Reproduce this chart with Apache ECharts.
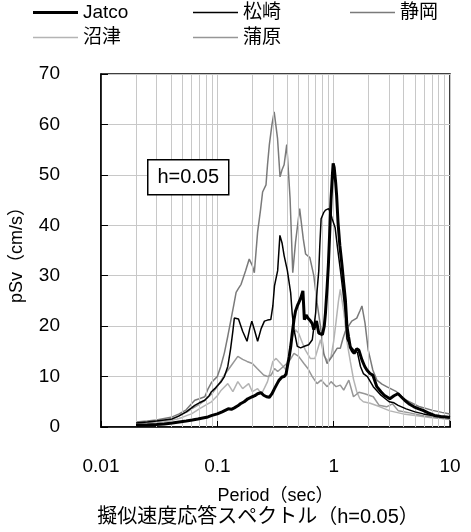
<!DOCTYPE html>
<html>
<head>
<meta charset="utf-8">
<script src="https://cdn.jsdelivr.net/npm/echarts@6/dist/echarts.min.js"></script>
<style>
  html, body { margin: 0; padding: 0; background: #fff; }
  #chart { width: 471px; height: 532px; }
</style>
</head>
<body>
<div id="chart"></div>
<script>
// period (sec), pSv (cm/s) pairs
var jatco = [[0.02,0.3],[0.025,0.4],[0.03,0.5],[0.035,0.6],[0.041,0.8],[0.047,1.0],[0.054,1.2],[0.061,1.4],[0.068,1.6],[0.075,1.8],[0.083,2.0],[0.09,2.3],[0.1,2.6],[0.11,3.0],[0.124,3.6],[0.132,3.5],[0.14,3.8],[0.15,4.2],[0.158,4.6],[0.17,5.0],[0.183,5.6],[0.2,6.0],[0.21,6.2],[0.222,6.6],[0.237,6.8],[0.25,6.3],[0.265,6.0],[0.28,5.9],[0.295,6.6],[0.31,7.6],[0.325,8.5],[0.34,9.3],[0.36,9.9],[0.375,10.0],[0.39,10.5],[0.4,12.0],[0.415,14.0],[0.428,16.0],[0.44,18.5],[0.456,21.3],[0.47,23.0],[0.487,24.0],[0.5,24.6],[0.52,25.5],[0.544,27.0],[0.56,21.3],[0.58,22.2],[0.6,21.6],[0.633,21.0],[0.655,20.5],[0.675,19.3],[0.7,20.5],[0.712,21.0],[0.745,18.6],[0.8,18.3],[0.83,20.0],[0.85,22.6],[0.88,28.0],[0.9,32.0],[0.93,40.0],[0.95,45.3],[0.975,50.0],[0.99,52.3],[1.01,51.5],[1.04,48.5],[1.06,46.0],[1.09,40.6],[1.13,36.0],[1.18,32.0],[1.22,28.5],[1.26,25.3],[1.3,20.0],[1.34,18.0],[1.39,15.8],[1.45,15.0],[1.5,14.6],[1.58,15.5],[1.65,15.2],[1.75,13.3],[1.85,12.0],[1.93,11.3],[2.05,10.6],[2.17,10.3],[2.35,8.0],[2.55,7.0],[2.72,6.3],[3.04,5.6],[3.3,6.2],[3.58,6.6],[3.8,6.0],[4.08,5.3],[4.5,4.5],[4.9,4.0],[5.4,3.6],[5.86,3.3],[6.5,2.8],[7.35,2.3],[8.3,2.1],[9.3,2.0],[10,1.9]];

var matsuzaki = [[0.02,0.8],[0.025,1.0],[0.03,1.2],[0.035,1.4],[0.041,1.6],[0.047,2.2],[0.054,3.0],[0.06,3.8],[0.064,4.3],[0.07,4.8],[0.078,5.3],[0.085,6.2],[0.089,7.0],[0.095,7.6],[0.1,8.2],[0.108,9.0],[0.115,10.0],[0.123,12.0],[0.13,15.5],[0.136,19.0],[0.14,21.6],[0.152,21.4],[0.165,19.0],[0.18,17.0],[0.19,19.5],[0.198,21.0],[0.21,19.0],[0.222,17.0],[0.238,19.5],[0.254,21.0],[0.27,21.2],[0.288,21.3],[0.3,24.0],[0.31,28.0],[0.33,31.0],[0.345,38.0],[0.36,36.5],[0.375,34.0],[0.4,31.0],[0.427,26.6],[0.44,22.5],[0.456,19.3],[0.487,16.0],[0.52,15.7],[0.56,16.0],[0.61,16.3],[0.655,17.3],[0.7,22.6],[0.72,27.0],[0.745,31.0],[0.76,36.0],[0.78,41.3],[0.82,42.5],[0.85,43.0],[0.905,43.3],[0.94,42.5],[0.97,41.3],[1.03,39.5],[1.08,35.5],[1.14,31.3],[1.2,27.0],[1.26,22.6],[1.3,17.5],[1.39,16.0],[1.48,15.3],[1.6,14.8],[1.7,12.0],[1.8,10.6],[1.95,10.0],[2.19,8.0],[2.55,6.3],[3.0,5.0],[3.3,4.8],[3.58,4.3],[4.2,3.6],[5.0,3.0],[5.9,2.6],[7.0,2.3],[8.5,2.1],[10,2.0]];

var shizuoka = [[0.02,1.0],[0.025,1.2],[0.03,1.4],[0.035,1.7],[0.041,2.0],[0.047,2.6],[0.054,3.4],[0.06,4.6],[0.064,5.3],[0.07,5.6],[0.078,6.0],[0.083,7.5],[0.089,8.8],[0.095,9.5],[0.1,10.0],[0.107,12.0],[0.115,14.7],[0.123,18.0],[0.131,21.3],[0.138,24.0],[0.145,26.7],[0.152,27.5],[0.16,28.3],[0.175,31.0],[0.188,33.3],[0.2,32.0],[0.208,30.6],[0.222,38.7],[0.235,43.0],[0.245,46.6],[0.262,48.0],[0.27,52.0],[0.28,56.0],[0.295,60.0],[0.308,62.5],[0.329,57.3],[0.346,49.6],[0.36,51.0],[0.375,52.0],[0.395,56.0],[0.41,50.0],[0.422,45.3],[0.445,30.6],[0.47,36.6],[0.51,43.3],[0.548,37.3],[0.574,34.3],[0.624,33.6],[0.675,30.0],[0.72,24.6],[0.77,20.0],[0.822,14.6],[0.878,12.6],[0.97,14.0],[1.07,15.6],[1.14,15.6],[1.2,17.5],[1.26,19.0],[1.43,21.0],[1.58,21.6],[1.68,23.0],[1.75,24.0],[1.86,20.6],[1.98,15.3],[2.17,11.3],[2.35,9.3],[2.6,8.5],[2.85,8.0],[3.47,7.0],[4.2,5.3],[5.5,4.0],[7.1,3.3],[8.5,2.9],[10,2.6]];

var numazu = [[0.02,0.4],[0.025,0.6],[0.03,0.8],[0.035,1.0],[0.04,1.3],[0.045,1.6],[0.05,1.9],[0.055,2.3],[0.06,2.6],[0.07,3.6],[0.08,4.4],[0.089,5.0],[0.1,6.2],[0.108,7.3],[0.123,8.6],[0.136,7.0],[0.15,9.0],[0.165,7.6],[0.186,8.6],[0.2,7.0],[0.222,7.6],[0.24,6.6],[0.255,7.8],[0.27,9.0],[0.285,11.0],[0.3,13.0],[0.32,13.6],[0.35,12.6],[0.39,11.3],[0.43,17.3],[0.47,19.3],[0.5,18.6],[0.54,16.6],[0.57,15.3],[0.63,13.6],[0.69,13.6],[0.77,17.3],[0.83,14.0],[0.9,13.0],[0.95,14.0],[1.0,17.0],[1.05,21.0],[1.1,25.0],[1.14,27.3],[1.22,23.0],[1.3,17.0],[1.39,13.0],[1.48,9.5],[1.58,7.0],[1.68,5.6],[1.8,5.0],[2.06,4.7],[2.5,4.0],[3.04,3.2],[3.95,2.6],[5.0,2.3],[6.7,1.9],[8.5,1.7],[10,1.5]];

var kanbara = [[0.02,0.6],[0.025,0.8],[0.03,1.1],[0.035,1.3],[0.04,1.6],[0.045,2.0],[0.05,2.6],[0.055,3.0],[0.06,3.6],[0.07,4.5],[0.078,5.3],[0.089,6.5],[0.1,8.0],[0.115,10.3],[0.13,12.0],[0.15,14.0],[0.165,13.4],[0.18,13.0],[0.2,12.6],[0.22,11.6],[0.25,10.3],[0.27,10.0],[0.29,10.3],[0.31,11.6],[0.33,11.0],[0.37,12.0],[0.414,13.0],[0.456,14.6],[0.5,14.0],[0.555,12.6],[0.6,11.6],[0.655,10.0],[0.72,8.6],[0.78,9.3],[0.88,8.0],[0.95,9.0],[1.05,8.0],[1.14,8.3],[1.22,7.3],[1.35,9.3],[1.48,6.0],[1.65,6.9],[1.85,6.6],[2.19,6.0],[2.46,4.3],[2.85,4.0],[3.2,4.6],[3.6,3.2],[4.5,2.8],[6.0,2.2],[8.0,1.8],[10,1.6]];

var seriesNames = ['Jatco', '松崎', '静岡', '沼津', '蒲原'];
var xTickLabels = ['0.01', '0.1', '1', '10'];
// minor log grid lines (2..9 of each decade)
var minorGrid = [0.02,0.03,0.04,0.05,0.06,0.07,0.08,0.09,0.2,0.3,0.4,0.5,0.6,0.7,0.8,0.9,2,3,4,5,6,7,8,9];

var font = "'Liberation Sans', 'Noto Sans CJK JP', sans-serif";
var myChart = echarts.init(document.getElementById('chart'));

function line(name, data, color, width, z) {
    return {
        name: name,
        type: 'line',
        data: data,
        symbol: 'none',
        z: z,
        lineStyle: { color: color, width: width },
        itemStyle: { color: color }
    };
}

// one legend per item so that each sits where the reference puts it
function legendAt(name, left, top, thick) {
    return {
        data: [name],
        left: left,
        top: top,
        padding: 0,
        icon: 'rect',
        itemWidth: 45,
        itemHeight: thick,
        itemGap: 5,
        textStyle: { fontSize: 19, color: '#000', fontFamily: font }
    };
}

var option = {
    animation: false,
    backgroundColor: '#fff',
    textStyle: { fontFamily: font },
    grid: {
        left: 97,
        right: 21,
        top: 74,
        bottom: 105,
        show: true,
        borderColor: '#000',
        borderWidth: 1.5
    },
    legend: [
        legendAt('Jatco', 33, 3, 3),
        legendAt('松崎', 193, 3, 1.5),
        legendAt('静岡', 350, 3, 1.5),
        legendAt('沼津', 33, 28, 1.5),
        legendAt('蒲原', 193, 28, 1.5)
    ],
    xAxis: {
        type: 'log',
        logBase: 10,
        min: 0.01,
        max: 10,
        name: 'Period（sec）',
        nameLocation: 'middle',
        nameGap: 60,
        nameTextStyle: { fontSize: 18, color: '#000', fontFamily: font },
        axisLine: { lineStyle: { color: '#000', width: 1.5 } },
        axisTick: { inside: true, length: 6, lineStyle: { color: '#000' } },
        axisLabel: {
            margin: 30,
            fontSize: 19,
            color: '#000',
            formatter: function (v) {
                return xTickLabels[Math.round(Math.log10(v)) + 2];
            }
        },
        splitLine: { show: true, lineStyle: { color: '#c8c8c8', width: 1 } }
    },
    yAxis: {
        type: 'value',
        min: 0,
        max: 70,
        interval: 10,
        name: 'pSv（cm/s）',
        nameLocation: 'middle',
        nameGap: 75,
        nameTextStyle: { fontSize: 18, color: '#000', fontFamily: font },
        axisLine: { show: true, lineStyle: { color: '#000', width: 1.5 } },
        axisTick: { show: true, inside: true, length: 7, lineStyle: { color: '#000' } },
        axisLabel: { margin: 41, fontSize: 19, color: '#000' },
        splitLine: { show: true, lineStyle: { color: '#c8c8c8', width: 1 } }
    },
    graphic: [
        {
            type: 'group',
            left: 147,
            top: 159,
            z: 100,
            children: [
                {
                    type: 'rect',
                    z: 100,
                    shape: { x: 0, y: 0, width: 81, height: 35 },
                    style: { fill: '#fff', stroke: '#000', lineWidth: 1.5 }
                },
                {
                    type: 'text',
                    z: 101,
                    x: 40.5,
                    y: 18,
                    style: {
                        text: 'h=0.05',
                        fontSize: 20,
                        fontFamily: font,
                        fill: '#000',
                        textAlign: 'center',
                        textVerticalAlign: 'middle'
                    }
                }
            ]
        },
        {
            type: 'text',
            x: 258,
            y: 517,
            style: {
                text: '擬似速度応答スペクトル（h=0.05）',
                fontSize: 20,
                fontFamily: font,
                fill: '#000',
                textAlign: 'center',
                textVerticalAlign: 'middle'
            }
        }
    ],
    series: [
        {
            type: 'line',
            data: [],
            silent: true,
            z: 1,
            markLine: {
                silent: true,
                symbol: ['none', 'none'],
                label: { show: false },
                lineStyle: { color: '#c8c8c8', width: 1, type: 'solid' },
                data: minorGrid.map(function (v) { return { xAxis: v }; })
            }
        },
        line(seriesNames[3], numazu, '#b4b4b4', 1.5, 2),
        line(seriesNames[4], kanbara, '#969696', 1.5, 3),
        line(seriesNames[2], shizuoka, '#7a7a7a', 1.5, 4),
        line(seriesNames[1], matsuzaki, '#000', 1.5, 5),
        line(seriesNames[0], jatco, '#000', 3, 6)
    ]
};

myChart.setOption(option);
</script>
</body>
</html>
